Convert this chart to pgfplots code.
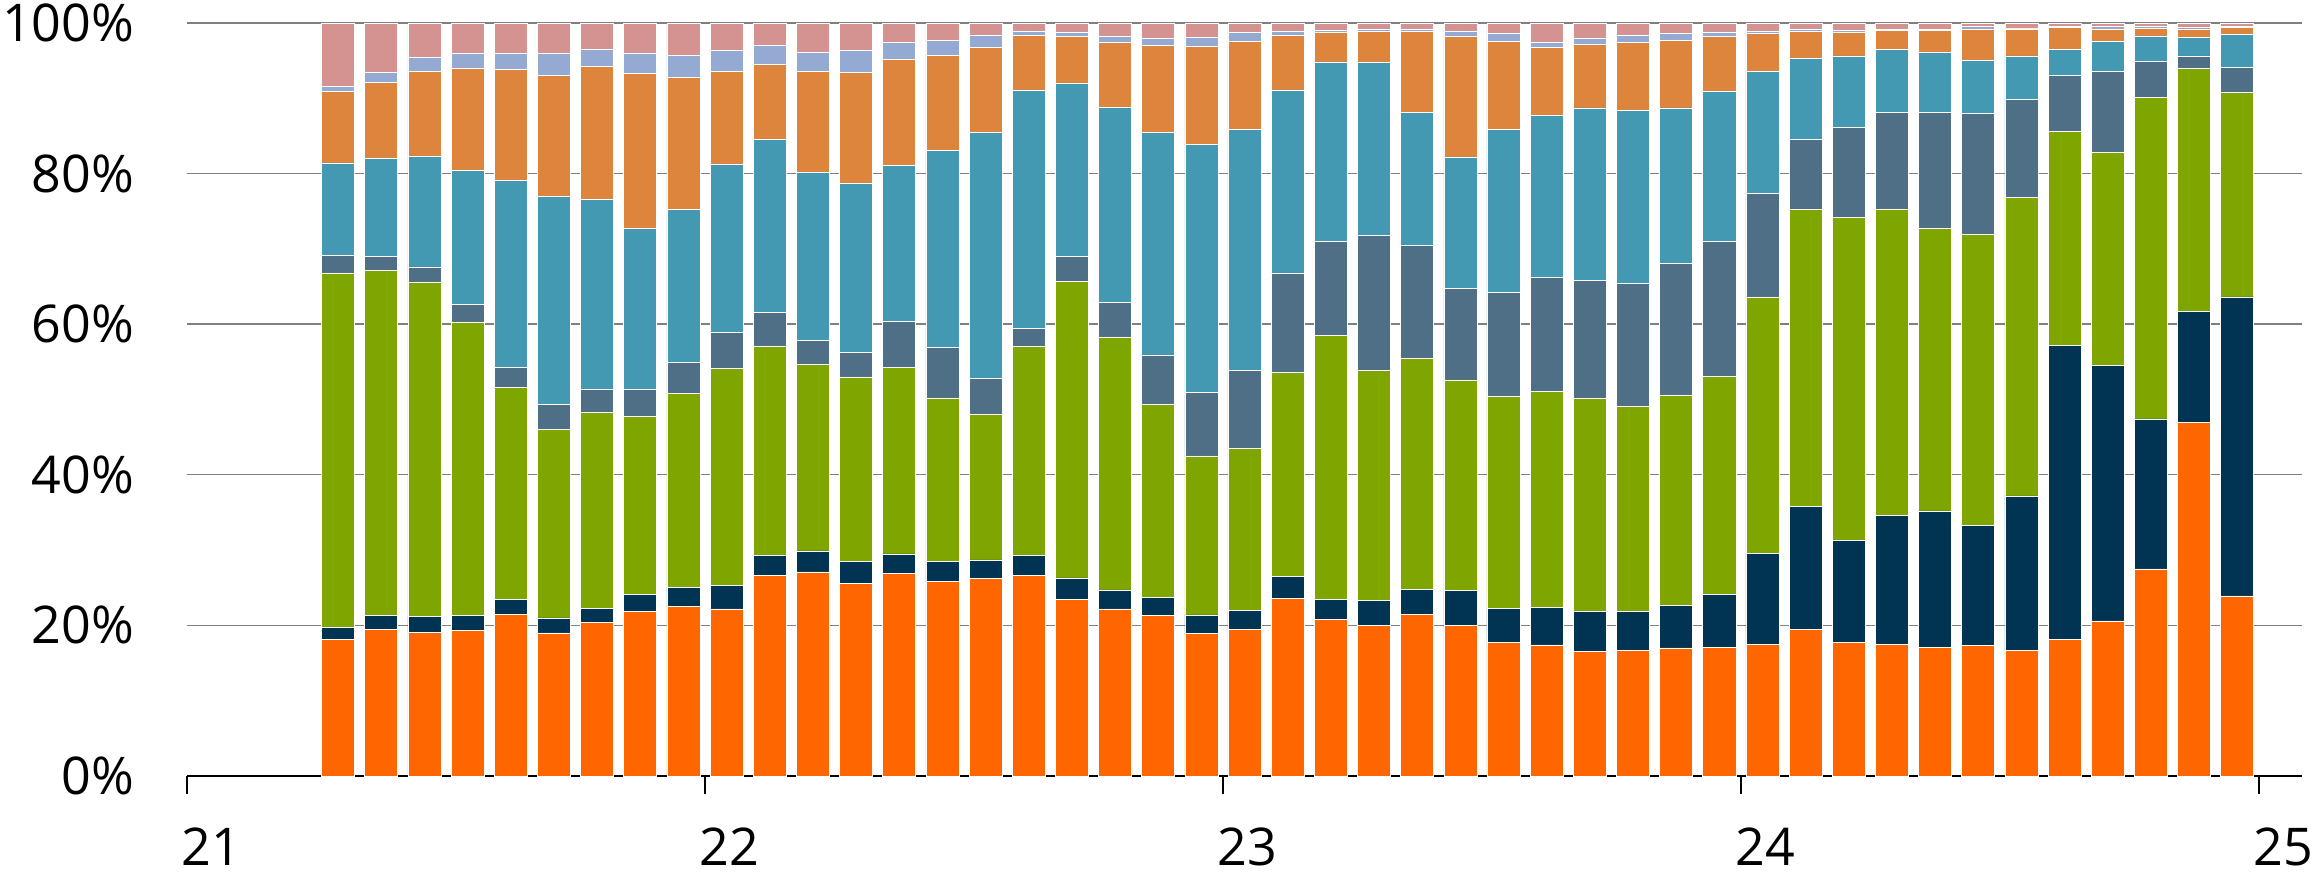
\documentclass[border=0pt]{standalone}
\usepackage{fontspec}
\setmainfont{Open Sans}
\usepackage{pgfplots}
\usepackage{pgfplotstable}
\pgfplotsset{compat=1.18}
\definecolor{cO}{HTML}{FF6600}
\definecolor{cN}{HTML}{003452}
\definecolor{cG}{HTML}{7FA500}
\definecolor{cS}{HTML}{4F6F86}
\definecolor{cT}{HTML}{4398B2}
\definecolor{cL}{HTML}{DD843D}
\definecolor{cB}{HTML}{94AAD3}
\definecolor{cP}{HTML}{D49391}
\pgfplotstableread{
x o n g s t lo lb p
3.5 18.1 1.6 47.1 2.3 12.3 9.5 0.7 8.4
4.5 19.5 1.8 45.8 1.9 13.0 10.1 1.3 6.6
5.5 19.1 2.1 44.4 2.0 14.7 11.2 1.9 4.6
6.5 19.3 2.0 39.0 2.3 17.8 13.6 1.9 4.1
7.5 21.5 1.9 28.2 2.7 24.8 14.7 2.1 4.1
8.5 19.0 2.0 25.0 3.3 27.6 16.1 2.9 4.1
9.5 20.4 1.9 26.0 3.1 25.2 17.6 2.3 3.5
10.5 21.9 2.2 23.6 3.7 21.3 20.6 2.7 4.0
11.5 22.5 2.5 25.8 4.1 20.3 17.5 3.0 4.3
12.5 22.2 3.1 28.8 4.8 22.3 12.4 2.7 3.7
13.5 26.6 2.7 27.8 4.5 22.9 10.0 2.5 3.0
14.5 27.1 2.8 24.8 3.1 22.3 13.4 2.6 3.9
15.5 25.6 2.9 24.5 3.2 22.5 14.7 2.9 3.7
16.5 26.9 2.6 24.7 6.2 20.7 14.1 2.2 2.6
17.5 25.8 2.7 21.7 6.7 26.2 12.6 2.0 2.3
18.5 26.2 2.5 19.3 4.8 32.7 11.2 1.6 1.7
19.5 26.6 2.7 27.7 2.4 31.7 7.2 0.6 1.1
20.5 23.4 2.9 39.4 3.3 23.0 6.2 0.6 1.2
21.5 22.2 2.5 33.6 4.6 25.9 8.6 0.8 1.8
22.5 21.3 2.4 25.6 6.6 29.5 11.6 0.9 2.1
23.5 18.9 2.5 21.1 8.4 33.0 13.0 1.2 1.9
24.5 19.5 2.5 21.5 10.4 32.0 11.6 1.2 1.3
25.5 23.6 2.9 27.1 13.2 24.3 7.2 0.6 1.1
26.5 20.8 2.7 35.0 12.5 23.8 3.9 0.3 1.0
27.5 20.0 3.3 30.6 17.9 22.9 4.2 0.3 0.8
28.5 21.5 3.3 30.6 15.0 17.7 10.8 0.3 0.8
29.5 20.0 4.6 28.0 12.1 17.5 16.0 0.7 1.1
30.5 17.7 4.6 28.1 13.8 21.7 11.6 1.1 1.4
31.5 17.4 5.0 28.7 15.1 21.5 9.0 0.7 2.6
32.5 16.5 5.4 28.2 15.7 22.9 8.4 0.9 2.0
33.5 16.7 5.2 27.2 16.3 23.0 9.0 0.9 1.7
34.5 17.0 5.6 28.0 17.5 20.6 9.0 0.9 1.4
35.5 17.1 7.0 29.0 17.9 19.9 7.3 0.6 1.2
36.5 17.5 12.1 34.0 13.8 16.1 5.1 0.3 1.1
37.5 19.5 16.3 39.4 9.3 10.8 3.6 0.3 0.8
38.5 17.7 13.6 42.9 11.9 9.5 3.1 0.3 1.0
39.5 17.5 17.1 40.7 12.8 8.4 2.5 0.2 0.8
40.5 17.1 18.1 37.5 15.4 8.0 2.9 0.1 0.9
41.5 17.3 16.0 38.6 16.1 7.0 4.2 0.3 0.5
42.5 16.7 20.5 39.6 13.0 5.8 3.6 0.1 0.7
43.5 18.1 39.1 28.4 7.4 3.5 2.9 0.2 0.4
44.5 20.6 33.9 28.3 10.8 3.9 1.7 0.3 0.5
45.5 27.5 19.9 42.7 4.8 3.3 1.1 0.2 0.5
46.5 46.9 14.8 32.2 1.7 2.5 1.1 0.2 0.6
47.5 23.9 39.7 27.2 3.3 4.4 0.9 0.2 0.4
}\data
\begin{document}
\begin{tikzpicture}
\useasboundingbox (-46.75pt,-26.5pt) rectangle (531.25pt,194pt);
\begin{axis}[
  at={(0,0)}, anchor=south west,
  scale only axis, width=528.75pt, height=188.3pt,
  xmin=0, xmax=49, ymin=0, ymax=100,
  ybar stacked, bar width=0.765,
  axis x line*=bottom, axis y line*=left,
  y axis line style={draw=none},
  x axis line style={black, line width=0.35pt, -},
  ytick={0,20,...,100},
  yticklabels={0\%,20\%,40\%,60\%,80\%,100\%},
  xtick={0,12,24,36,48},
  xticklabels={21,22,23,24,25},
  ymajorgrids,
  grid style={color=black!50, line width=0.35pt},
  ytick style={draw=none},
  xtick style={black, line width=0.35pt},
  tick align=outside, major tick length=4.5pt,
  ticklabel style={font=\fontsize{13}{15}\selectfont},
  yticklabel style={anchor=east, inner sep=0pt, xshift=-8.5pt},
  xticklabel style={anchor=north west, inner sep=0pt, xshift=-1.5pt, yshift=-8.2pt},
  every axis plot/.append style={draw=white, line width=0.15pt},
]
\addplot[fill=cO] table[x=x,y=o]{\data};
\addplot[fill=cN] table[x=x,y=n]{\data};
\addplot[fill=cG] table[x=x,y=g]{\data};
\addplot[fill=cS] table[x=x,y=s]{\data};
\addplot[fill=cT] table[x=x,y=t]{\data};
\addplot[fill=cL] table[x=x,y=lo]{\data};
\addplot[fill=cB] table[x=x,y=lb]{\data};
\addplot[fill=cP] table[x=x,y=p]{\data};
\end{axis}
\end{tikzpicture}
\end{document}
